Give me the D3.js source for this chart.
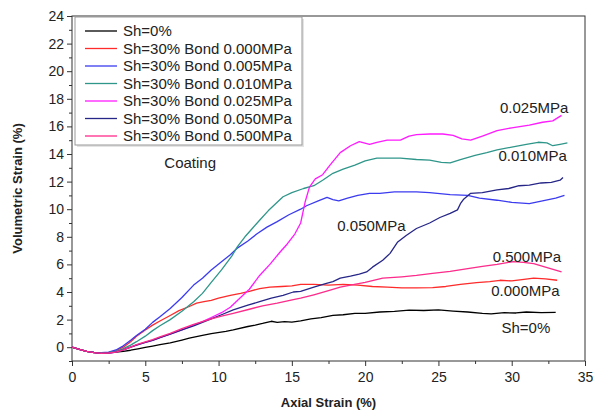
<!DOCTYPE html>
<html>
<head>
<meta charset="utf-8">
<script src="https://cdn.jsdelivr.net/npm/d3@7/dist/d3.min.js"></script>
<style>
  body { margin: 0; background: #fff; }
  svg { display: block; font-family: Arial, "Liberation Sans", sans-serif; }
  .frame { fill: none; stroke: #333; stroke-width: 1; }
  .curve { fill: none; stroke-width: 1.3; stroke-linejoin: round; }
</style>
</head>
<body>
<script>
// axial strain (%) vs volumetric strain (%)
var sh0 = [[0,0],[0.5,-0.15],[1,-0.3],[1.5,-0.38],[2,-0.42],[2.5,-0.4],[3,-0.35],[3.5,-0.3],[4,-0.22],[4.5,-0.12],[5,-0.02],[5.5,0.08],[6,0.18],[6.7,0.32],[7.5,0.52],[8,0.65],[8.9,0.85],[9.5,0.98],[10.5,1.15],[11,1.25],[12,1.5],[12.5,1.6],[13,1.72],[13.6,1.88],[14,1.8],[14.5,1.86],[15,1.82],[15.6,1.9],[16.3,2.05],[17,2.15],[17.8,2.3],[18.5,2.35],[19.3,2.45],[20,2.45],[21,2.55],[22,2.6],[23,2.68],[24,2.66],[25,2.7],[26,2.62],[27,2.55],[28,2.45],[28.6,2.42],[29.5,2.5],[30.3,2.48],[31,2.55],[32,2.5],[33,2.52]];
var bond000 = [[0,0],[0.5,-0.15],[1,-0.3],[1.5,-0.4],[2,-0.45],[2.5,-0.4],[3,-0.25],[3.5,0],[4,0.4],[4.4,0.8],[5,1.25],[5.5,1.6],[6,1.9],[6.7,2.3],[7.3,2.65],[8,2.95],[8.5,3.2],[9,3.3],[9.5,3.4],[10,3.55],[10.8,3.75],[11.5,3.9],[12.1,4.05],[12.8,4.25],[13.5,4.35],[14.3,4.4],[15,4.45],[15.6,4.55],[16.5,4.55],[17.5,4.5],[18.5,4.55],[19.5,4.5],[20.5,4.4],[21.5,4.35],[22.5,4.3],[23.5,4.3],[24.6,4.32],[25.5,4.4],[26.5,4.55],[27.6,4.68],[28.5,4.75],[29.2,4.85],[30,4.8],[30.7,4.9],[31.5,5.0],[32.3,4.95],[33.1,4.85]];
var bond005 = [[0,0],[0.5,-0.15],[1,-0.3],[1.5,-0.38],[2,-0.4],[2.5,-0.35],[3,-0.2],[3.5,0.1],[4,0.5],[4.4,0.85],[5,1.3],[5.5,1.8],[6,2.2],[6.7,2.8],[7.5,3.6],[8.3,4.5],[8.9,5.0],[9.5,5.6],[10.2,6.2],[10.8,6.7],[11.3,7.2],[12,7.7],[12.6,8.2],[13.3,8.7],[14,9.1],[14.8,9.6],[15.6,10.0],[16,10.25],[16.8,10.6],[17.4,10.85],[17.8,10.7],[18.2,10.6],[18.8,10.8],[19.5,11.0],[20.3,11.15],[21,11.15],[22,11.25],[23.5,11.25],[24.4,11.2],[25.8,11.05],[27,11.0],[27.8,10.8],[29,10.65],[30,10.5],[31.2,10.4],[32.1,10.6],[33,10.8],[33.6,11.0]];
var bond010 = [[0,0],[0.5,-0.15],[1,-0.3],[1.5,-0.38],[2,-0.4],[2.5,-0.38],[3,-0.3],[3.5,-0.1],[4,0.15],[4.4,0.4],[5,0.8],[5.5,1.2],[6,1.55],[6.7,2.0],[7.5,2.6],[8.3,3.3],[8.9,3.9],[9.5,4.7],[10.2,5.6],[10.9,6.6],[11.3,7.3],[11.8,8.0],[12.3,8.6],[12.8,9.2],[13.4,9.9],[14,10.5],[14.4,10.9],[15,11.2],[15.8,11.5],[16.5,11.7],[17.1,12.1],[17.8,12.6],[18.5,12.9],[19.3,13.2],[20,13.5],[20.8,13.7],[21.5,13.7],[22.4,13.7],[23.5,13.6],[24.4,13.55],[25.2,13.4],[25.8,13.35],[26.5,13.6],[27.5,13.9],[28.3,14.1],[29,14.3],[30,14.5],[31,14.7],[31.8,14.85],[32.4,14.8],[32.8,14.6],[33.3,14.7],[33.8,14.8]];
var bond025 = [[0,0],[0.5,-0.15],[1,-0.3],[1.5,-0.4],[2,-0.45],[2.5,-0.42],[3,-0.35],[3.5,-0.2],[4,0],[4.4,0.15],[5,0.35],[5.5,0.5],[6,0.7],[6.7,0.95],[7.5,1.25],[8.3,1.6],[8.9,1.85],[9.5,2.15],[10.2,2.5],[10.8,2.9],[11.5,3.6],[12.1,4.2],[12.8,5.2],[13.5,6.0],[14.2,6.9],[14.7,7.5],[15.2,8.2],[15.6,9.0],[15.9,10.5],[16.2,11.6],[16.6,12.2],[17.1,12.5],[17.6,13.2],[18.3,14.1],[19,14.6],[19.6,14.9],[20.3,14.7],[20.8,14.85],[21.5,15.0],[22.4,15.0],[23,15.3],[23.5,15.4],[24.4,15.45],[25.3,15.45],[26,15.35],[26.6,15.1],[27.2,15.0],[28,15.3],[29,15.7],[30,15.9],[31.2,16.1],[32.1,16.3],[32.8,16.4],[33.4,16.8]];
var bond050 = [[0,0],[0.5,-0.15],[1,-0.3],[1.5,-0.4],[2,-0.45],[2.5,-0.42],[3,-0.35],[3.5,-0.2],[4,0],[4.4,0.15],[5,0.35],[5.5,0.5],[6,0.7],[6.7,0.95],[7.5,1.25],[8.3,1.55],[8.9,1.8],[9.5,2.05],[10.2,2.35],[11,2.7],[12,3.05],[12.8,3.3],[13.6,3.55],[14.4,3.75],[15.1,4.0],[15.6,4.05],[16.5,4.35],[17.3,4.6],[17.8,4.75],[18.3,5.0],[19,5.15],[19.6,5.3],[20.1,5.45],[20.5,5.8],[21.2,6.3],[21.7,6.8],[22.2,7.6],[22.8,8.1],[23.5,8.6],[24.4,9.0],[25.1,9.4],[25.8,9.7],[26.3,9.95],[26.5,10.4],[26.7,10.7],[27.2,11.15],[28,11.2],[29,11.4],[29.8,11.5],[30.5,11.7],[31.2,11.75],[32,11.9],[32.7,11.95],[33.3,12.1],[33.5,12.3]];
var bond500 = [[0,0],[0.5,-0.15],[1,-0.3],[1.5,-0.4],[2,-0.45],[2.5,-0.42],[3,-0.35],[3.5,-0.2],[4,0],[4.4,0.18],[5,0.38],[5.5,0.55],[6,0.75],[6.7,1.0],[7.5,1.35],[8.3,1.65],[8.9,1.85],[9.5,2.05],[10.2,2.25],[11,2.45],[12.1,2.75],[13,3.0],[14,3.2],[15.1,3.45],[15.6,3.55],[16.5,3.8],[17.5,4.1],[18.3,4.35],[19,4.5],[20,4.7],[21.2,5.0],[22.5,5.1],[23.5,5.2],[24.6,5.35],[25.8,5.5],[27,5.7],[28,5.85],[29,6.0],[30.1,6.2],[30.8,6.15],[31.5,6.05],[32.3,5.8],[33.4,5.45]];

var seriesNames = ['Sh=0%', 'Sh=30% Bond 0.000MPa', 'Sh=30% Bond 0.005MPa', 'Sh=30% Bond 0.010MPa',
  'Sh=30% Bond 0.025MPa', 'Sh=30% Bond 0.050MPa', 'Sh=30% Bond 0.500MPa'];
var seriesData = [sh0, bond000, bond005, bond010, bond025, bond050, bond500];
var seriesColors = ['#000000', '#ff2a2a', '#3b3bf0', '#2f968a', '#ff1aff', '#262688', '#ff2a8a'];

var xTicks = [0, 5, 10, 15, 20, 25, 30, 35];
var yTicks = [0, 2, 4, 6, 8, 10, 12, 14, 16, 18, 20, 22, 24];

// curve end labels: [text, axial strain, volumetric strain]
var endLabels = [['0.025MPa', 29.2, 17.0], ['0.010MPa', 29.1, 13.5], ['0.050MPa', 18.1, 8.4],
  ['0.500MPa', 28.7, 6.2], ['0.000MPa', 28.6, 3.7], ['Sh=0%', 29.3, 1.0], ['Coating', 6.3, 13.0]];

var W = 593, H = 412;
var margin = { top: 16, right: 8, bottom: 51, left: 72 },
  width = W - margin.left - margin.right,
  height = H - margin.top - margin.bottom;

var svg = d3.select('body').append('svg').attr('width', W).attr('height', H);
var g = svg.append('g').attr('transform', 'translate(' + margin.left + ',' + margin.top + ')');

var x = d3.scaleLinear().domain([0, 35]).range([0, width]);
var y = d3.scaleLinear().domain([-1, 24]).range([height, 0]);

// minor ticks first
g.append('g')
  .attr('transform', 'translate(0,' + height + ')')
  .call(d3.axisBottom(x).tickValues(d3.range(2.5, 35, 5)).tickSize(3).tickFormat(''))
  .call(function(a) { a.select('.domain').remove(); a.selectAll('line').attr('stroke', '#333'); });
g.append('g')
  .call(d3.axisLeft(y).tickValues(d3.range(-1, 24, 2)).tickSize(3).tickFormat(''))
  .call(function(a) { a.select('.domain').remove(); a.selectAll('line').attr('stroke', '#333'); });

var xAxis = g.append('g')
  .attr('transform', 'translate(0,' + height + ')')
  .call(d3.axisBottom(x).tickValues(xTicks).tickSize(5).tickPadding(6));
var yAxis = g.append('g')
  .call(d3.axisLeft(y).tickValues(yTicks).tickSize(5).tickPadding(3));

[xAxis, yAxis].forEach(function(a) {
  a.select('.domain').remove();
  a.selectAll('line').attr('stroke', '#333');
  a.selectAll('text').attr('fill', '#222').style('font-size', '14px')
    .style('font-family', 'Arial, "Liberation Sans", sans-serif');
});

g.append('rect').attr('class', 'frame')
  .attr('x', 0).attr('y', 0).attr('width', width).attr('height', height);

var line = d3.line()
  .x(function(d) { return x(d[0]); })
  .y(function(d) { return y(d[1]); });

g.selectAll('path.curve')
  .data(seriesData)
  .enter()
  .append('path')
  .attr('class', 'curve')
  .attr('stroke', function(d, i) { return seriesColors[i]; })
  .attr('d', line);

// labels next to the curves
g.selectAll('text.lbl')
  .data(endLabels)
  .enter()
  .append('text')
  .attr('class', 'lbl')
  .attr('x', function(d) { return x(d[1]); })
  .attr('y', function(d) { return y(d[2]); })
  .attr('fill', '#222')
  .style('font-size', '15px')
  .text(function(d) { return d[0]; });

// legend
var legend = g.append('g').attr('transform', 'translate(3,1)');
legend.append('rect')
  .attr('x', 2).attr('y', 2).attr('width', 227).attr('height', 128)
  .attr('fill', '#e4e4e4');
legend.append('rect')
  .attr('x', 0).attr('y', 0).attr('width', 227).attr('height', 128)
  .attr('fill', '#fff').attr('stroke', '#999');

var item = legend.selectAll('g.item')
  .data(seriesNames)
  .enter()
  .append('g')
  .attr('class', 'item')
  .attr('transform', function(d, i) { return 'translate(0,' + (14 + i * 17.5) + ')'; });

item.append('line')
  .attr('x1', 10).attr('x2', 42)
  .attr('stroke', function(d, i) { return seriesColors[i]; })
  .attr('stroke-width', 1.3);
item.append('text')
  .attr('x', 48).attr('dy', '0.35em')
  .attr('fill', '#222')
  .style('font-size', '15px')
  .text(function(d) { return d; });

// axis titles
svg.append('text')
  .attr('x', margin.left + width / 2).attr('y', 407)
  .attr('text-anchor', 'middle')
  .style('font-size', '13px').style('font-weight', 'bold').attr('fill', '#222')
  .text('Axial Strain (%)');
svg.append('text')
  .attr('transform', 'translate(22,' + (margin.top + height / 2) + ') rotate(-90)')
  .attr('text-anchor', 'middle')
  .style('font-size', '13px').style('font-weight', 'bold').attr('fill', '#222')
  .text('Volumetric Strain (%)');
</script>
</body>
</html>
